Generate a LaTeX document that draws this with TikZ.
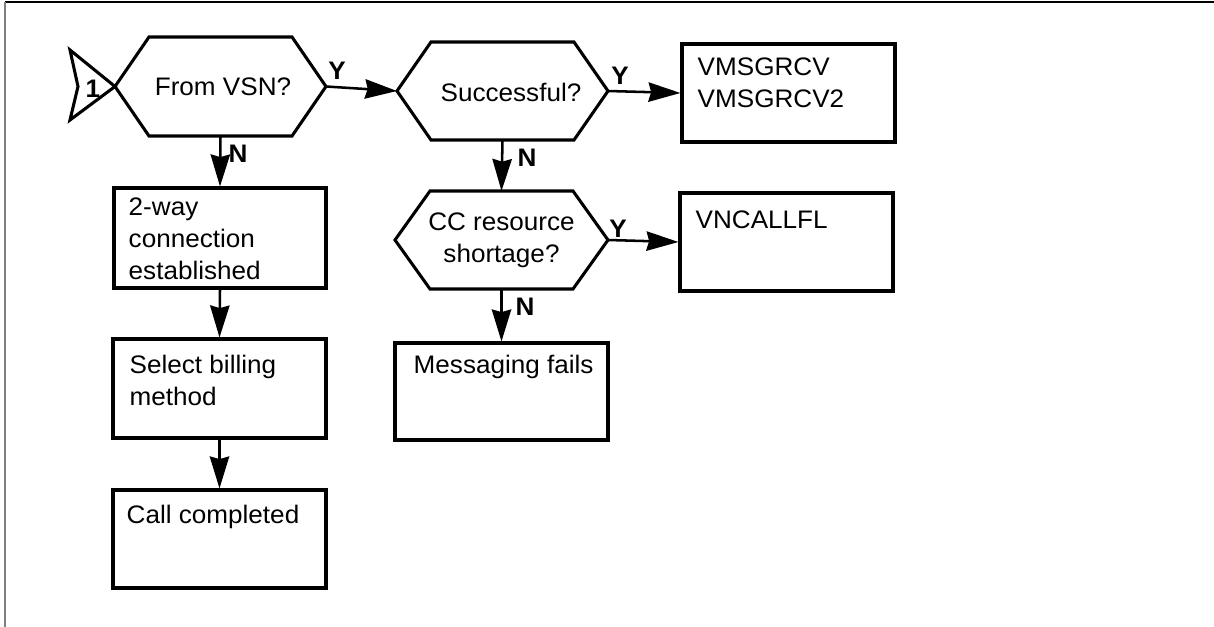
\documentclass[tikz,border=0pt]{standalone}
\usepackage{fontspec}
\setmainfont{Liberation Sans}[FakeStretch=1.03]
\usetikzlibrary{arrows.meta}
\newlength{\pxu}\setlength{\pxu}{0.75pt}
\newcommand{\hexpath}[2]{\draw[shp] (#1.west) -- ([xshift=#2\pxu]#1.north west) -- ([xshift=-#2\pxu]#1.north east) -- (#1.east) -- ([xshift=-#2\pxu]#1.south east) -- ([xshift=#2\pxu]#1.south west) -- cycle;}
\begin{document}
\begin{tikzpicture}[x=0.75pt,y=-0.75pt,
  font=\fontsize{19}{24}\selectfont,
  shp/.style={line width=2.3pt, line join=miter},
  hexnode/.style={inner sep=0pt, outer sep=0pt, align=center},
  boxnode/.style={draw, line width=2.3pt, inner sep=0pt},
  txt/.style={anchor=base west, inner sep=0pt},
  lab/.style={inner sep=0pt, font=\fontsize{19}{24}\selectfont\bfseries},
  arr/.style={-{Stealth[length=24pt,width=14.5pt,inset=2pt]}, line width=1.9pt}]
\useasboundingbox (0,0) rectangle (1214,627);
% frame
\draw[line width=1.6pt] (5,2) -- (1214,2);
\draw[line width=1.6pt, gray] (5,2) -- (5,627);

% decisions
\node[hexnode, minimum width=211\pxu, minimum height=99\pxu] (h1) at (220.5,86.5) {};
\node[inner sep=0pt] (h1t) at (223,87) {From VSN?};
\hexpath{h1}{34}
\node[hexnode, minimum width=211\pxu, minimum height=98\pxu] (h2) at (502.5,91) {};
\node[inner sep=0pt] (h2t) at (511,92) {Successful?};
\hexpath{h2}{34}
\node[hexnode, minimum width=213\pxu, minimum height=98\pxu] (h3) at (501.5,240) {CC resource\\shortage?};
\hexpath{h3}{35}

% entry connector
\coordinate (c1) at (70,50);
\coordinate (c2) at (78,86.5);
\coordinate (c3) at (70,120);
\draw[shp] (c1) -- (h1.west) -- (c3) -- (c2) -- cycle;
\node[lab] (one) at (93,88.5) {1};

% boxes
\node[boxnode, minimum width=213\pxu, minimum height=98\pxu] (bv) at (788.5,93) {};
\node[txt] (bvt) at ([xshift=17\pxu, yshift=-33\pxu]bv.north west) {\begin{tabular}[t]{@{}l@{}}VMSGRCV\\VMSGRCV2\end{tabular}};
\node[boxnode, minimum width=213\pxu, minimum height=98\pxu] (bn) at (786.5,242) {};
\node[txt] (bnt) at ([xshift=17\pxu, yshift=-37\pxu]bn.north west) {VNCALLFL};
\node[boxnode, minimum width=213\pxu, minimum height=97\pxu] (bm) at (501.5,391.5) {};
\node[txt] (bmt) at ([xshift=20\pxu, yshift=-32\pxu]bm.north west) {Messaging fails};
\node[boxnode, minimum width=212\pxu, minimum height=100\pxu] (b1) at (220,238) {};
\node[txt] (b1t) at ([xshift=16\pxu, yshift=-29\pxu]b1.north west) {\begin{tabular}[t]{@{}l@{}}2-way\\connection\\established\end{tabular}};
\node[boxnode, minimum width=213\pxu, minimum height=99\pxu] (b2) at (219.5,388.5) {};
\node[txt] (b2t) at ([xshift=18\pxu, yshift=-36\pxu]b2.north west) {\begin{tabular}[t]{@{}l@{}}Select billing\\method\end{tabular}};
\node[boxnode, minimum width=213\pxu, minimum height=98\pxu] (b3) at (219.5,539) {};
\node[txt] (b3t) at ([xshift=15\pxu, yshift=-35\pxu]b3.north west) {Call completed};

% connectors
\draw[arr] (h1.east) -- (h2.west);
\draw[arr] (h2.east) -- (bv.west);
\draw[arr] (h3.east) -- (bn.west);
\draw[arr] (h1.south) -- (b1.north);
\draw[arr] (h2.south) -- (h3.north);
\draw[arr] (h3.south) -- (bm.north);
\draw[arr] (b1.south) -- (b2.north);
\draw[arr] (b2.south) -- (b3.north);

% labels
\node[lab] (y1) at (337,71) {Y};
\node[lab] (y2) at (620,76) {Y};
\node[lab] (y3) at (618,229) {Y};
\node[lab] (n1) at (238,154) {N};
\node[lab] (n2) at (527,158) {N};
\node[lab] (n3) at (525,307) {N};
\end{tikzpicture}
\end{document}
